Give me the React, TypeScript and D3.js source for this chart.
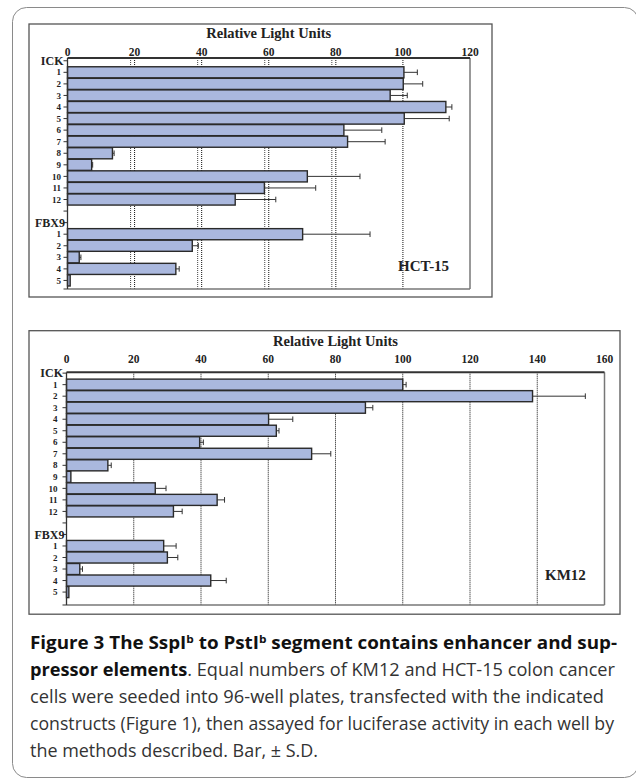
import React from 'react';
import * as d3 from 'd3';

// category rows
const ickLabels = ['1', '2', '3', '4', '5', '6', '7', '8', '9', '10', '11', '12'];
const fbxLabels = ['1', '2', '3', '4', '5'];

// HCT-15 panel
const hctTicks = [0, 20, 40, 60, 80, 100, 120];
const hctIck = [100.3, 100.1, 96.2, 112.8, 100.4, 82.4, 83.5, 13.4, 7.2, 71.5, 58.7, 50.0];
const hctIckErr = [4.0, 5.8, 5.1, 1.8, 13.4, 11.3, 11.2, 0.5, 0.3, 15.7, 15.3, 12.1];
const hctFbx = [70.1, 37.2, 3.5, 32.3, 0.8];
const hctFbxErr = [20.1, 1.8, 0.5, 1.0, 0];

// KM12 panel
const kmTicks = [0, 20, 40, 60, 80, 100, 120, 140, 160];
const kmIck = [100.0, 138.6, 88.9, 60.1, 62.4, 39.6, 72.9, 12.3, 1.3, 26.4, 44.8, 31.8];
const kmIckErr = [1.0, 15.7, 2.2, 7.2, 0.8, 1.1, 5.7, 1.0, 0, 3.2, 2.2, 2.6];
const kmFbx = [28.9, 30.0, 3.95, 42.9, 0.7];
const kmFbxErr = [3.7, 3.1, 0.8, 4.6, 0];

const rowKeys = [
  'ICK',
  ...ickLabels.map(l => 'ICK-' + l),
  'gap',
  'FBX9',
  ...fbxLabels.map(l => 'FBX9-' + l),
];

const SERIF = '"Liberation Serif", "Times New Roman", serif';
const SANS = '"Open Sans", "Noto Sans", sans-serif';
const BAR_FILL = '#aab8de';

interface PanelProps {
  frame: [number, number, number, number];
  xRange: [number, number];
  top: number;
  bottom: number;
  rowRange: [number, number];
  ticks: number[];
  ghost: boolean;
  ick: number[];
  ickErr: number[];
  fbx: number[];
  fbxErr: number[];
  name: string;
  namePos: [number, number];
  tickBase: number;
  titleBase: number;
  numOff: number;
  ickOff: number;
  fbxOff: number;
}

const Panel: React.FC<PanelProps> = p => {
  const xMax = p.ticks[p.ticks.length - 1];
  const x = d3.scaleLinear().domain([0, xMax]).range(p.xRange);
  const y = d3.scaleBand<string>().domain(rowKeys).range(p.rowRange).paddingInner(0.04);
  const bw = y.bandwidth();
  const mid = (k: string) => (y(k) as number) + bw / 2;

  const bars = [
    ...p.ick.map((v, i) => ({ key: 'ICK-' + ickLabels[i], v, e: p.ickErr[i] })),
    ...p.fbx.map((v, i) => ({ key: 'FBX9-' + fbxLabels[i], v, e: p.fbxErr[i] })),
  ];
  const x0 = x(0);
  const [fx, fy, fw, fh] = p.frame;

  return (
    <g>
      <rect x={fx} y={fy} width={fw} height={fh} fill="#fff" stroke="#555" strokeWidth={1.3} />
      {/* gridlines */}
      {p.ticks.slice(1, -1).map(t => (
        <line key={'g' + t} x1={x(t)} x2={x(t)} y1={p.top} y2={p.bottom}
          stroke="#111" strokeWidth={1} strokeDasharray="1,1" />
      ))}
      {p.ghost && p.ticks.slice(1, -2).map(t => (
        <line key={'gg' + t} x1={x(t) - 4} x2={x(t) - 4} y1={p.top} y2={p.bottom}
          stroke="#444" strokeWidth={1} strokeDasharray="1,1" />
      ))}
      {/* right + bottom axis */}
      <line x1={x(xMax)} x2={x(xMax)} y1={p.top} y2={p.bottom} stroke="#777" strokeWidth={1.5} />
      <line x1={x0 - 4} x2={x(xMax)} y1={p.bottom} y2={p.bottom} stroke="#777" strokeWidth={1.5} />
      {/* bars */}
      {bars.map(b => (
        <rect key={b.key} x={x0} y={y(b.key)} width={x(b.v) - x0} height={bw}
          fill={BAR_FILL} stroke="#2a2a2a" strokeWidth={1.4} />
      ))}
      {/* error bars */}
      {bars.filter(b => b.e > 0).map(b => (
        <g key={'e' + b.key} stroke="#333" strokeWidth={1}>
          <line x1={x(b.v)} x2={x(b.v + b.e)} y1={mid(b.key)} y2={mid(b.key)} />
          <line x1={x(b.v + b.e)} x2={x(b.v + b.e)} y1={mid(b.key) - 2.8} y2={mid(b.key) + 2.8} />
        </g>
      ))}
      {/* top + left axis */}
      <line x1={x0} x2={x(xMax)} y1={p.top} y2={p.top} stroke="#333" strokeWidth={2} />
      <line x1={x0} x2={x0} y1={p.top} y2={p.bottom} stroke="#333" strokeWidth={1.3} />
      {rowKeys.map(k => (
        <line key={'t' + k} x1={x0 - 4} x2={x0} y1={mid(k)} y2={mid(k)} stroke="#333" strokeWidth={1} />
      ))}
      {/* tick labels */}
      {p.ticks.map(t => (
        <text key={'l' + t} x={x(t)} y={p.tickBase} textAnchor="middle"
          fontFamily={SERIF} fontWeight="bold" fontSize={11.5} fill="#222">{t}</text>
      ))}
      <text x={(p.xRange[0] + p.xRange[1]) / 2} y={p.titleBase} textAnchor="middle"
        fontFamily={SERIF} fontWeight="bold" fontSize={14.5} fill="#222">Relative Light Units</text>
      {/* category labels */}
      <text x={x0 - p.ickOff} y={mid('ICK')} dy="0.35em" textAnchor="end"
        fontFamily={SERIF} fontWeight="bold" fontSize={12} fill="#222">ICK</text>
      <text x={x0 - p.fbxOff} y={mid('FBX9')} dy="0.35em" textAnchor="end"
        fontFamily={SERIF} fontWeight="bold" fontSize={12} fill="#222">FBX9</text>
      {bars.map(b => (
        <text key={'c' + b.key} x={x0 - p.numOff} y={mid(b.key)} dy="0.35em" textAnchor="end"
          fontFamily={SERIF} fontWeight="bold" fontSize={9} fill="#222">{b.key.split('-')[1]}</text>
      ))}
      <text x={p.namePos[0]} y={p.namePos[1]} fontFamily={SERIF} fontWeight="bold"
        fontSize={15} fill="#222">{p.name}</text>
    </g>
  );
};

const captionLines = [
  'cells were seeded into 96-well plates, transfected with the indicated',
  'constructs (Figure 1), then assayed for luciferase activity in each well by',
];

const App: React.FC = () => {
  const W = 636;
  const H = 779;
  return (
    <svg width={W} height={H} style={{ position: 'absolute', left: 0, top: 0, display: 'block' }}>
      <rect x={0} y={0} width={W} height={H} fill="#fff" />
      <rect x={12.5} y={7.5} width={626} height={770} rx={14} fill="none" stroke="#8a8a8a" strokeWidth={1} />
      <Panel frame={[29, 24, 463, 273]} xRange={[67.5, 470]} top={58} bottom={289}
        rowRange={[55.2, 286]} ticks={hctTicks} ghost={true}
        ick={hctIck} ickErr={hctIckErr} fbx={hctFbx} fbxErr={hctFbxErr}
        name="HCT-15" namePos={[398, 270.5]} tickBase={56} titleBase={38}
        numOff={6.5} ickOff={4} fbxOff={2.5} />
      <Panel frame={[29, 330.7, 591, 283.5]} xRange={[66.5, 604.5]} top={372.3} bottom={605}
        rowRange={[367.6, 597.6]} ticks={kmTicks} ghost={false}
        ick={kmIck} ickErr={kmIckErr} fbx={kmFbx} fbxErr={kmFbxErr}
        name="KM12" namePos={[545, 580]} tickBase={362.5} titleBase={346}
        numOff={9} ickOff={3.5} fbxOff={2} />
      {/* caption */}
      <g fontFamily={SANS} fontSize={17.5}>
        <text x={30} y={649} textLength={587} lengthAdjust="spacingAndGlyphs" fill="#111" fontWeight="bold">
          Figure 3 The SspI<tspan fontSize={11} dy={-6}>b</tspan>
          <tspan dy={6}> to PstI</tspan><tspan fontSize={11} dy={-6}>b</tspan>
          <tspan dy={6}> segment contains enhancer and sup-</tspan>
        </text>
        <text x={30} y={676} textLength={585} lengthAdjust="spacingAndGlyphs" fill="#333">
          <tspan fontWeight="bold" fill="#111">pressor elements</tspan>. Equal numbers of KM12 and HCT-15 colon cancer
        </text>
        <text x={30} y={703} textLength={574} lengthAdjust="spacingAndGlyphs" fill="#333">{captionLines[0]}</text>
        <text x={30} y={730} textLength={584} lengthAdjust="spacingAndGlyphs" fill="#333">{captionLines[1]}</text>
        <text x={30} y={757} textLength={288} lengthAdjust="spacingAndGlyphs" fill="#333">the methods described. Bar, ± S.D.</text>
      </g>
    </svg>
  );
};

export default App;
